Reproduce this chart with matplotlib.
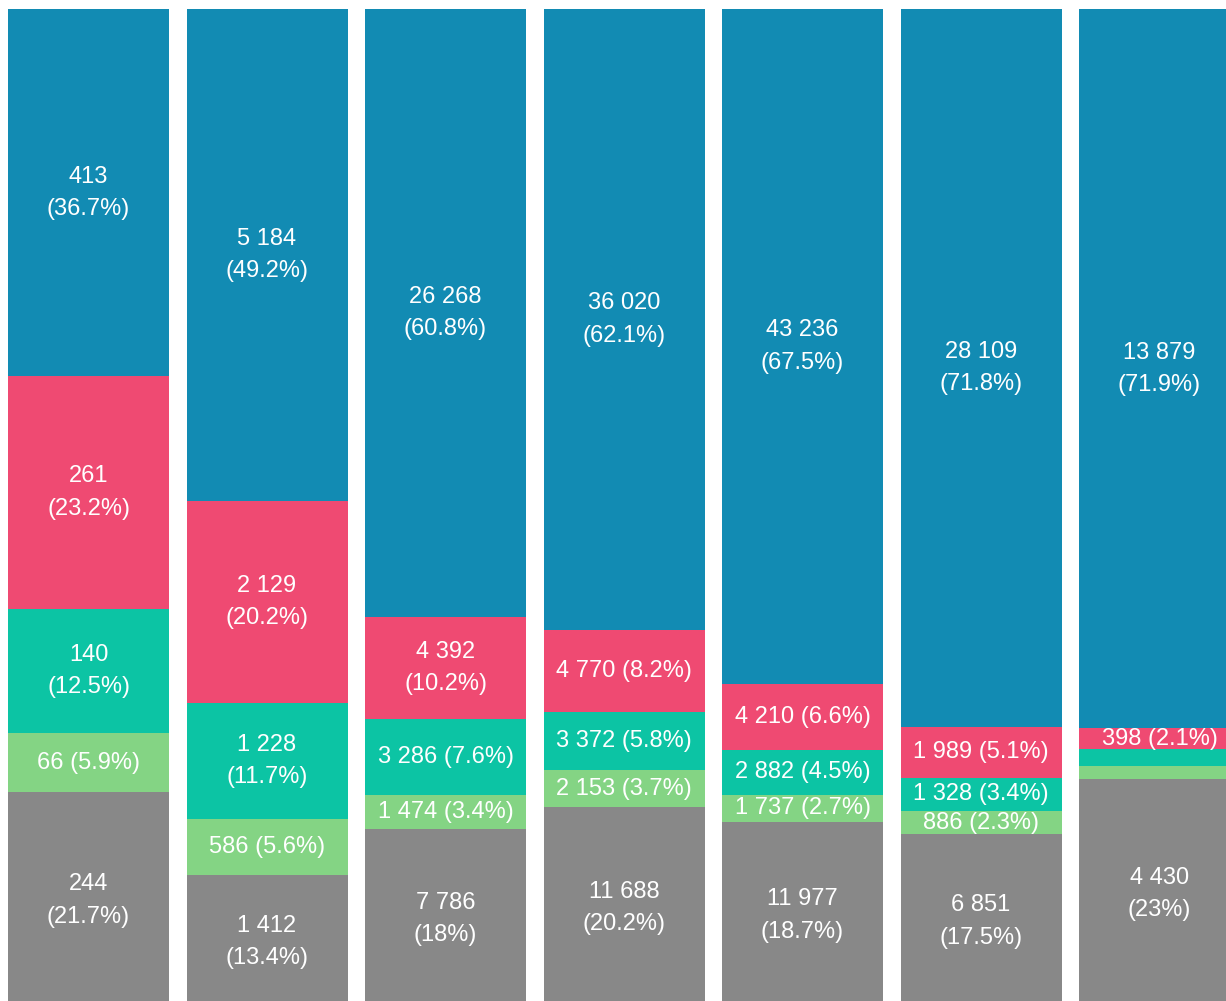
import numpy as np
import matplotlib.pyplot as plt

# stack order bottom -> top
grey = [244, 1412, 7786, 11688, 11977, 6851, 4430]
light_green = [66, 586, 1474, 2153, 1737, 886, 250]
teal = [140, 1228, 3286, 3372, 2882, 1328, 333]
pink = [261, 2129, 4392, 4770, 4210, 1989, 398]
blue = [413, 5184, 26268, 36020, 43236, 28109, 13879]

series = [grey, light_green, teal, pink, blue]
colors = ['#888888', '#84d484', '#0cc4a4', '#ef4a72', '#128bb3']


def fmt_num(v):
    return f"{v:,}".replace(",", " ")


def fmt_pct(p):
    s = f"{p:.1f}"
    if s.endswith(".0"):
        s = s[:-2]
    return s + "%"


data = np.array(series, dtype=float)
totals = data.sum(axis=0)
pcts = data / totals * 100

fig = plt.figure(figsize=(12.26, 10.01), dpi=100)
ax = fig.add_axes([0, 0, 1, 1])

x = np.arange(len(grey))
bottom = np.zeros(len(grey))
for vals, pc, col in zip(series, pcts, colors):
    ax.bar(x, pc, bottom=bottom, width=0.902, color=col, linewidth=0)
    for i in range(len(x)):
        p = pc[i]
        if p < 2:
            continue
        if p >= 9:
            label = fmt_num(vals[i]) + "\n(" + fmt_pct(p) + ")"
        else:
            label = fmt_num(vals[i]) + " (" + fmt_pct(p) + ")"
        ax.text(x[i], bottom[i] + p / 2, label, ha='center', va='center',
                color='white', fontsize=17, family='Liberation Sans',
                linespacing=1.6)
    bottom += pc

# bars run a little past the bottom edge, as in the original
ax.set_xlim(-0.496, -0.496 + 1226 / 178.5)
ax.set_ylim(0.8, 100.9)
ax.axis('off')

fig.savefig('out.png', dpi=100)
